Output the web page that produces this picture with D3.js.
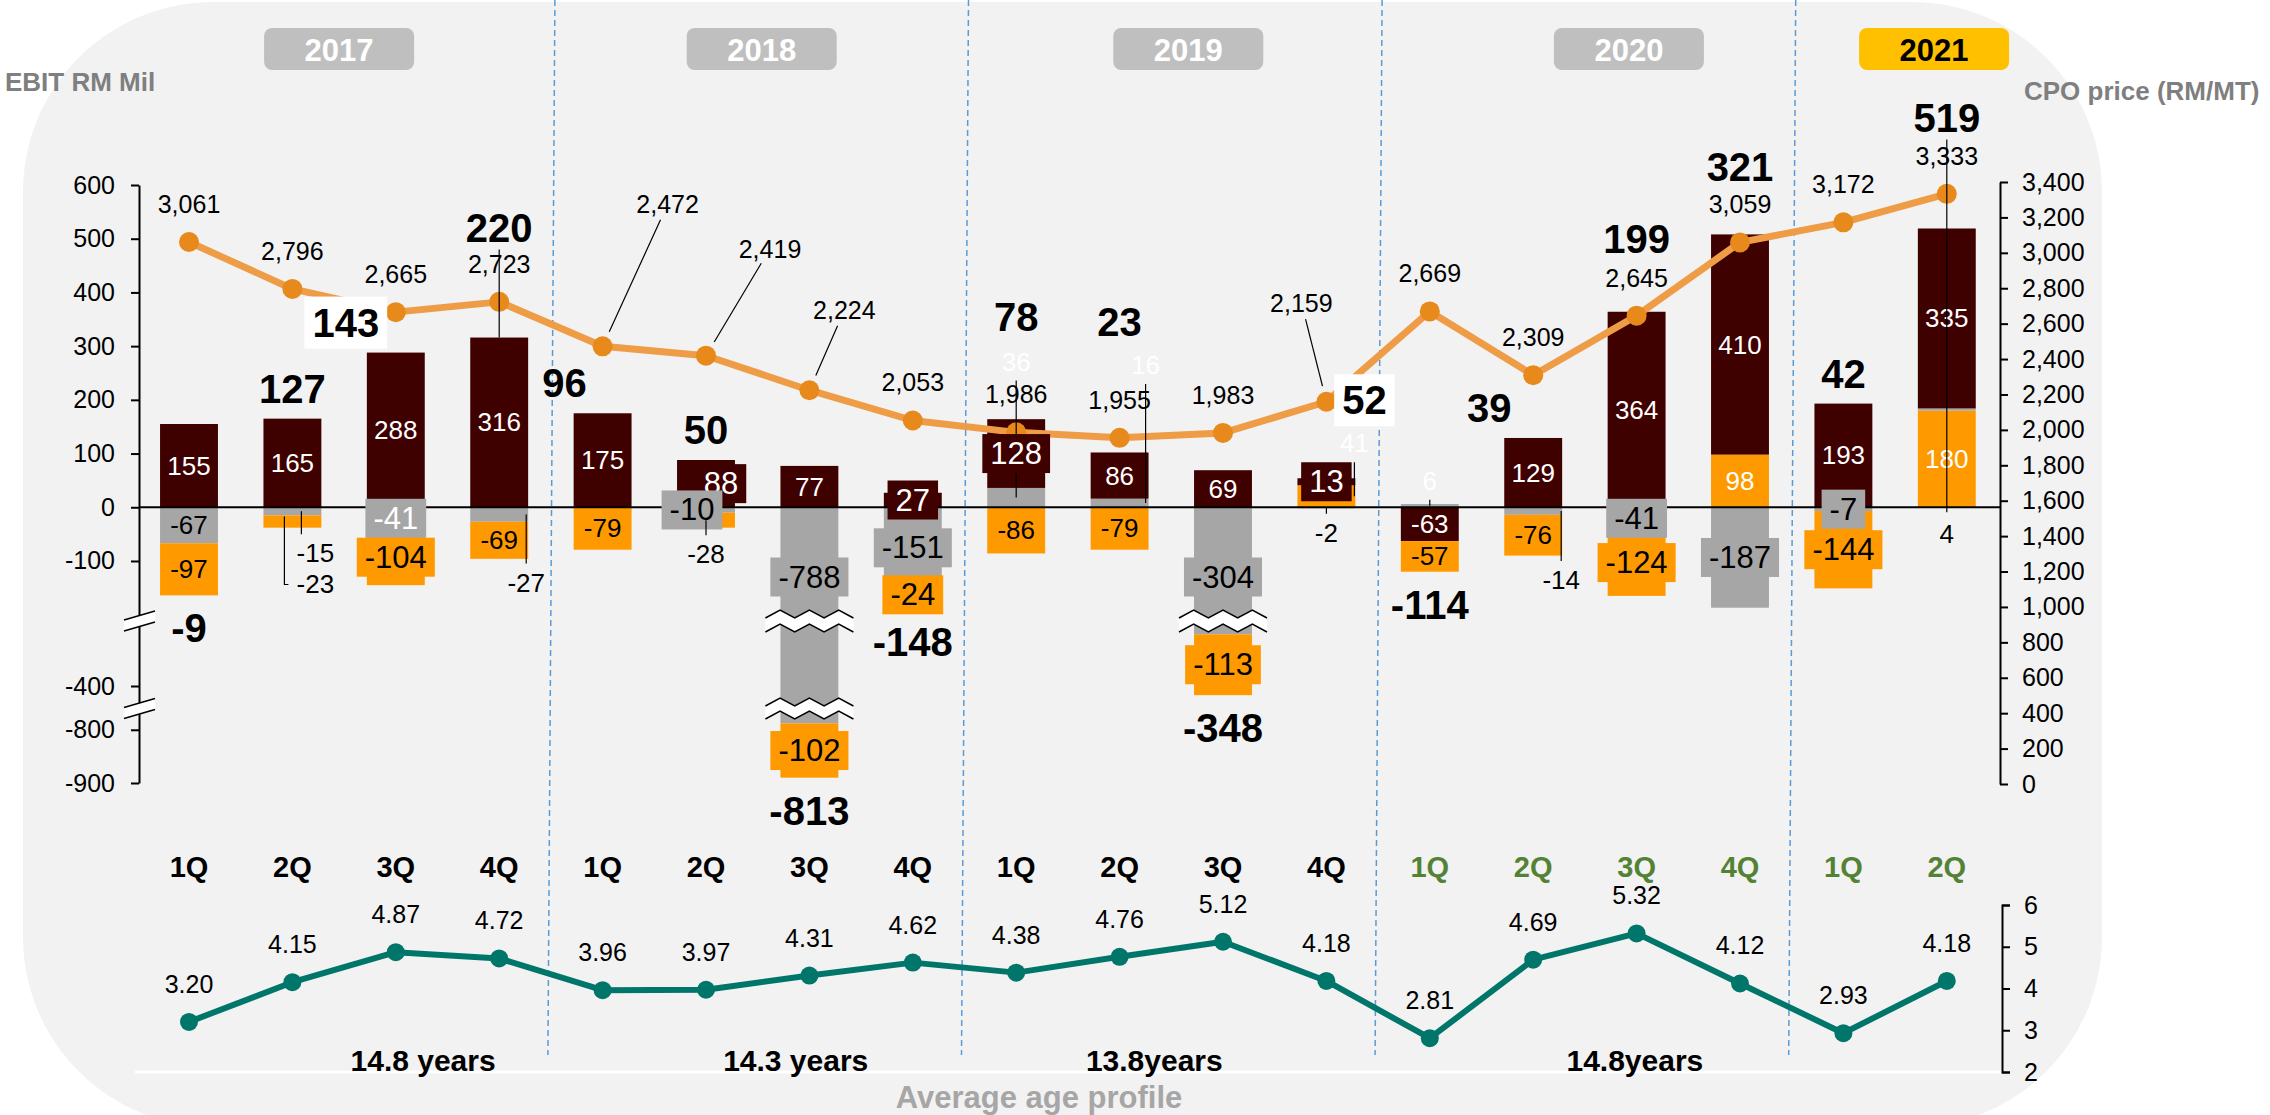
<!DOCTYPE html>
<html lang="en">
<head>
<meta charset="UTF-8">
<title>EBIT vs CPO price</title>
<script src="https://d3js.org/d3.v7.min.js"></script>
<style>
    body { margin: 0; background: #fff; }
    svg { display: block; font-family: "Liberation Sans", Arial, sans-serif; }
</style>
</head>
<body>
<div id="chart"></div>
<script>
// ---- data ----
const quarters = ['1Q','2Q','3Q','4Q','1Q','2Q','3Q','4Q','1Q','2Q','3Q','4Q','1Q','2Q','3Q','4Q','1Q','2Q'];
const quarterYear = ['2017','2017','2017','2017','2018','2018','2018','2018','2019','2019','2019','2019','2020','2020','2020','2020','2021','2021'];
const years = ['2017','2018','2019','2020','2021'];
const darkSeg   = [155, 165, 288, 316, 175, 88, 77, 27, 128, 86, 69, 13, -63, 129, 364, 410, 193, 335];
const graySeg   = [-67, -15, -41, -27, 0, -10, -788, -151, 36, 16, -304, -2, 6, -14, -41, -187, -7, 4];
const orangeSeg = [-97, -23, -104, -69, -79, -28, -102, -24, -86, -79, -113, 41, -57, -76, -124, 98, -144, 180];
const ebitTotal = [-9, 127, 143, 220, 96, 50, -813, -148, 78, 23, -348, 52, -114, 39, 199, 321, 42, 519];
const cpoPrice  = [3061, 2796, 2665, 2723, 2472, 2419, 2224, 2053, 1986, 1955, 1983, 2159, 2669, 2309, 2645, 3059, 3172, 3333];
const lowerSeries = [3.20, 4.15, 4.87, 4.72, 3.96, 3.97, 4.31, 4.62, 4.38, 4.76, 5.12, 4.18, 2.81, 4.69, 5.32, 4.12, 2.93, 4.18];
const ageProfile = ['14.8 years', '14.3 years', '13.8years', '14.8years'];
const ebitTicks = [600, 500, 400, 300, 200, 100, 0, -100, -400, -800, -900];
const cpoTicks = [0, 200, 400, 600, 800, 1000, 1200, 1400, 1600, 1800, 2000, 2200, 2400, 2600, 2800, 3000, 3200, 3400];
const lowerTicks = [2, 3, 4, 5, 6];

// ---- layout ----
const W = 2270, H = 1115;
const loc = d3.formatLocale({decimal: '.', thousands: ',', grouping: [3], currency: ['', ''], minus: '-'});
const fmtInt = loc.format('d'), fmtComma = loc.format(','), fmt2 = loc.format('.2f');

const svg = d3.select('#chart').append('svg').attr('width', W).attr('height', H);

const x = d3.scaleBand().domain(d3.range(quarters.length))
    .range([137.3, 1998.5]).paddingInner(0.44).paddingOuter(0.22);
const cx = i => x(i) + x.bandwidth() / 2;
// broken EBIT axis: two hidden value gaps
const y = d3.scaleLinear().domain([600, -195, -296, -426, -776, -900]).range([185, 612, 630, 700, 717, 783]);
const gaps = [[-195, -296], [-426, -776]];
const yCpo = d3.scaleLinear().domain([0, 3400]).range([784, 182]);
const yLow = d3.scaleLinear().domain([2, 6]).range([1072, 905]);

const colors = {dark: '#3f0000', gray: '#a6a6a6', orange: '#ff9900'};
const segValues = {dark: darkSeg, gray: graySeg, orange: orangeSeg};
const posOrder = ['orange', 'gray', 'dark'];
const negOrder = ['dark', 'gray', 'orange'];

function txt(g, tx, ty, s, size, o = {}) {
    return g.append('text').attr('x', tx).attr('y', ty)
        .attr('text-anchor', o.anchor || 'middle')
        .attr('dominant-baseline', 'central')
        .attr('font-size', size)
        .attr('font-weight', o.bold ? 'bold' : null)
        .attr('fill', o.fill || '#000')
        .text(s);
}
function boxBehind(g, t, fill, padX, h) {
    const b = t.node().getBBox();
    const cy = +t.attr('y');
    g.insert('rect', () => t.node())
        .attr('x', b.x - padX).attr('y', cy - h / 2)
        .attr('width', b.width + 2 * padX).attr('height', h)
        .attr('fill', fill);
}

// background panel
svg.append('rect').attr('x', 23).attr('y', 2).attr('width', 2079).attr('height', 1125)
    .attr('rx', 190).attr('ry', 190).attr('fill', '#f2f2f2');

// year separators
const step = x.step();
[4, 8, 12, 16].forEach(i => {
    const bx = x(i) - step * 0.22;
    svg.append('line').attr('x1', bx + 4).attr('x2', bx - 3).attr('y1', 0).attr('y2', 1055)
        .attr('stroke', '#5b9bd5').attr('stroke-width', 1.5).attr('stroke-dasharray', '6,4');
});

// year boxes
const yearBoxNudge = [-5, 4, 17, 44, 39];
years.forEach((yr, k) => {
    const idx = d3.range(quarters.length).filter(i => quarterYear[i] === yr);
    const c = d3.mean(idx, cx) + yearBoxNudge[k];
    const current = k === years.length - 1;
    svg.append('rect').attr('x', c - 75).attr('y', 28).attr('width', 150).attr('height', 42)
        .attr('rx', 8).attr('fill', current ? '#ffc000' : '#bfbfbf');
    txt(svg, c, 50, yr, 31, {bold: true, fill: current ? '#000' : '#fff'});
});

txt(svg, 5, 82, 'EBIT RM Mil', 26, {bold: true, fill: '#7f7f7f', anchor: 'start'});
txt(svg, 2024, 91, 'CPO price (RM/MT)', 26, {bold: true, fill: '#7f7f7f', anchor: 'start'});

// stacked segments
const segs = [];
quarters.forEach((q, i) => {
    let up = 0, down = 0;
    posOrder.forEach(k => {
        const v = segValues[k][i];
        if (v > 0) { segs.push({i, k, v, a: up, b: up + v}); up += v; }
    });
    negOrder.forEach(k => {
        const v = segValues[k][i];
        if (v < 0) { segs.push({i, k, v, a: down, b: down + v}); down += v; }
    });
});
const stackTop = d3.range(quarters.length).map(i => d3.max(segs.filter(s => s.i === i), s => Math.max(s.a, s.b)) || 0);
const stackBot = d3.range(quarters.length).map(i => d3.min(segs.filter(s => s.i === i), s => Math.min(s.a, s.b)) || 0);

const barG = svg.append('g');
barG.selectAll('rect').data(segs).join('rect')
    .attr('x', d => x(d.i)).attr('width', x.bandwidth())
    .attr('y', d => y(Math.max(d.a, d.b)))
    .attr('height', d => y(Math.min(d.a, d.b)) - y(Math.max(d.a, d.b)))
    .attr('fill', d => colors[d.k]);

// break waves on bars running through the gaps
gaps.forEach(([g0, g1]) => {
    const top = y(g0), bot = y(g1);
    d3.range(quarters.length).filter(i => stackBot[i] < g1).forEach(i => {
        const c = cx(i), hw = 44, n = 6;
        const edge = off => d3.range(n + 1).map(k => [c - hw + k * 2 * hw / n, off + (k % 2 ? -4 : 4)]);
        const topPts = edge(top + 2), botPts = edge(bot - 2);
        svg.append('path').attr('d', d3.line()(topPts.concat(botPts.slice().reverse())) + 'Z').attr('fill', '#fff');
        svg.append('path').attr('d', d3.line()(topPts)).attr('fill', 'none').attr('stroke', '#000').attr('stroke-width', 1.5);
        svg.append('path').attr('d', d3.line()(botPts)).attr('fill', 'none').attr('stroke', '#000').attr('stroke-width', 1.5);
    });
});

// zero line
svg.append('line').attr('x1', 139).attr('x2', 2000).attr('y1', y(0)).attr('y2', y(0))
    .attr('stroke', '#000').attr('stroke-width', 2);

// axes
function styleAxis(g, size) {
    g.selectAll('path, line').attr('stroke', '#000').attr('stroke-width', 2);
    g.selectAll('text').attr('font-size', size).attr('fill', '#000').attr('font-family', null);
    g.attr('font-family', null);
}
const leftAxis = svg.append('g').attr('transform', 'translate(139,0)')
    .call(d3.axisLeft(y).tickValues(ebitTicks).tickFormat(fmtInt).tickSize(8).tickSizeOuter(0).tickPadding(16));
styleAxis(leftAxis, 25);
const rightAxis = svg.append('g').attr('transform', 'translate(2000,0)')
    .call(d3.axisRight(yCpo).tickValues(cpoTicks).tickFormat(fmtComma).tickSize(8).tickSizeOuter(0).tickPadding(14));
styleAxis(rightAxis, 25);

// axis break marks
gaps.forEach(([g0, g1]) => {
    const c = (y(g0) + y(g1)) / 2;
    svg.append('path').attr('d', `M124,${c - 1}L155,${c - 10}L155,${c + 1}L124,${c + 10}Z`).attr('fill', '#fff');
    svg.append('path').attr('d', `M124,${c - 1}L155,${c - 10}M124,${c + 10}L155,${c + 1}`)
        .attr('stroke', '#000').attr('stroke-width', 1.5);
});

// CPO line
svg.append('path').datum(cpoPrice)
    .attr('d', d3.line().x((d, i) => cx(i)).y(d => yCpo(d)))
    .attr('fill', 'none').attr('stroke', '#ee9c46').attr('stroke-width', 7).attr('stroke-linejoin', 'round');
svg.append('g').selectAll('circle').data(cpoPrice).join('circle')
    .attr('cx', (d, i) => cx(i)).attr('cy', d => yCpo(d)).attr('r', 10).attr('fill', '#e8891c');

const cpoNudge = {4: [65, -142], 5: [64, -107], 6: [35, -80], 11: [-25, -99]};
const cpoG = svg.append('g');
cpoPrice.forEach((v, i) => {
    const px = cx(i), py = yCpo(v);
    const n = cpoNudge[i] || [0, -38];
    const lx = px + n[0], ly = py + n[1];
    txt(cpoG, lx, ly, fmtComma(v), 25);
    if (cpoNudge[i]) {
        const len = Math.hypot(px - lx, py - ly), ux = (px - lx) / len, uy = (py - ly) / len;
        cpoG.append('line').attr('x1', lx + ux * 17).attr('y1', ly + uy * 17)
            .attr('x2', px - ux * 16).attr('y2', py - uy * 16)
            .attr('stroke', '#000').attr('stroke-width', 1.2);
    }
});

// segment labels
const boxed = new Set(['2-gray', '2-orange', '5-dark', '5-gray', '6-gray', '6-orange', '7-dark', '7-gray', '7-orange',
    '8-dark', '10-gray', '10-orange', '11-dark', '14-gray', '14-orange', '15-gray', '16-gray', '16-orange']);
const whiteText = new Set(['2-gray']);
const blackText = new Set(['17-gray']);
const segTweak = {
    '1-gray': {dx: 23, dy: 42, lx: -14},
    '1-orange': {dx: 23, dy: 63, elbow: true},
    '3-gray': {dx: 27, dy: 68, lx: 0},
    '5-dark': {dx: 15, dy: 0},
    '5-gray': {dx: -14, dy: 0},
    '5-orange': {dx: 0, dy: 34, lx: 0},
    '8-gray': {dx: 0, dy: -136, lx: 0},
    '9-gray': {dx: 26, dy: -138, lx: 0},
    '11-gray': {dx: 0, dy: 25, lx: 0},
    '11-orange': {dx: 28, dy: -53, lx: 0},
    '12-gray': {dx: 0, dy: -25, lx: 0},
    '13-gray': {dx: 28, dy: 69, lx: 0},
    '17-gray': {dx: 0, dy: 124}
};
const segLabelG = svg.append('g');
segs.forEach(s => {
    const key = `${s.i}-${s.k}`;
    const crossesGap = Math.max(s.a, s.b) > gaps[0][0] && Math.min(s.a, s.b) < gaps[0][1];
    const mid = crossesGap ? y(gaps[0][0]) - 35 : (y(s.a) + y(s.b)) / 2;
    const tw = segTweak[key] || {dx: 0, dy: 0};
    const lx = cx(s.i) + tw.dx, ly = mid + tw.dy;
    const isBoxed = boxed.has(key);
    const white = !blackText.has(key) && (s.k === 'dark' || s.v > 0 || whiteText.has(key));
    const t = txt(segLabelG, lx, ly, fmtInt(s.v), isBoxed ? 31 : 26, {fill: white ? '#fff' : '#000'});
    if (isBoxed) boxBehind(segLabelG, t, colors[s.k], 8, 39);
    if (tw.lx !== undefined) {
        const dir = ly > mid ? -1 : 1;
        segLabelG.append('line').attr('x1', lx + tw.lx).attr('x2', lx + tw.lx)
            .attr('y1', mid).attr('y2', ly + dir * 19)
            .attr('stroke', '#000').attr('stroke-width', 1.2);
    }
    if (tw.elbow) {
        const ex = cx(s.i) - 8;
        segLabelG.append('path').attr('d', `M${ex},${mid - 5}V${ly}H${lx - 27}`)
            .attr('fill', 'none').attr('stroke', '#000').attr('stroke-width', 1.2);
    }
});

// EBIT totals
const totalNudge = {2: [-50, 0], 3: [0, -80], 4: [-38, 0], 7: [0, 8], 8: [0, -72], 9: [0, -100],
    11: [38, -48], 13: [-44, 0], 14: [0, -43], 15: [0, -37], 17: [0, -81]};
const totalBoxed = new Set([2, 11]);
const totalY = i => (ebitTotal[i] >= 0 ? y(stackTop[i]) - 30 : y(stackBot[i]) + 33) + (totalNudge[i] || [0, 0])[1];
const totalG = svg.append('g');
ebitTotal.forEach((v, i) => {
    const n = totalNudge[i] || [0, 0];
    const t = txt(totalG, cx(i) + n[0], totalY(i), fmtInt(v), 40, {bold: true});
    if (totalBoxed.has(i)) boxBehind(totalG, t, '#fff', 8, 52);
});
[[3, y(stackTop[3])], [17, y(0) + 5]].forEach(([i, to]) => {
    totalG.append('line').attr('x1', cx(i)).attr('x2', cx(i)).attr('y1', totalY(i) + 22).attr('y2', to)
        .attr('stroke', '#000').attr('stroke-width', 1.2);
});

// quarter labels
quarters.forEach((q, i) => {
    txt(svg, cx(i), 867, q, 29, {bold: true, fill: i >= 12 ? '#548235' : '#000'});
});

// lower line chart
svg.append('line').attr('x1', 135).attr('x2', 2002).attr('y1', 1072).attr('y2', 1072)
    .attr('stroke', '#fff').attr('stroke-width', 3);
svg.append('path').datum(lowerSeries)
    .attr('d', d3.line().x((d, i) => cx(i)).y(d => yLow(d)))
    .attr('fill', 'none').attr('stroke', '#00766b').attr('stroke-width', 6).attr('stroke-linejoin', 'round');
svg.append('g').selectAll('circle').data(lowerSeries).join('circle')
    .attr('cx', (d, i) => cx(i)).attr('cy', d => yLow(d)).attr('r', 9).attr('fill', '#00766b');
lowerSeries.forEach((v, i) => txt(svg, cx(i), yLow(v) - 38, fmt2(v), 25));
const lowAxis = svg.append('g').attr('transform', 'translate(2002,0)')
    .call(d3.axisRight(yLow).tickValues(lowerTicks).tickFormat(fmtInt).tickSize(8).tickSizeOuter(8).tickPadding(14));
styleAxis(lowAxis, 25);

const ageNudge = [79, 38, -17, 50];
ageProfile.forEach((s, k) => {
    const idx = d3.range(quarters.length).filter(i => quarterYear[i] === years[k]);
    txt(svg, d3.mean(idx, cx) + ageNudge[k], 1060, s, 30, {bold: true});
});
txt(svg, 1039, 1097, 'Average age profile', 31, {bold: true, fill: '#a6a6a6'});
</script>
</body>
</html>
